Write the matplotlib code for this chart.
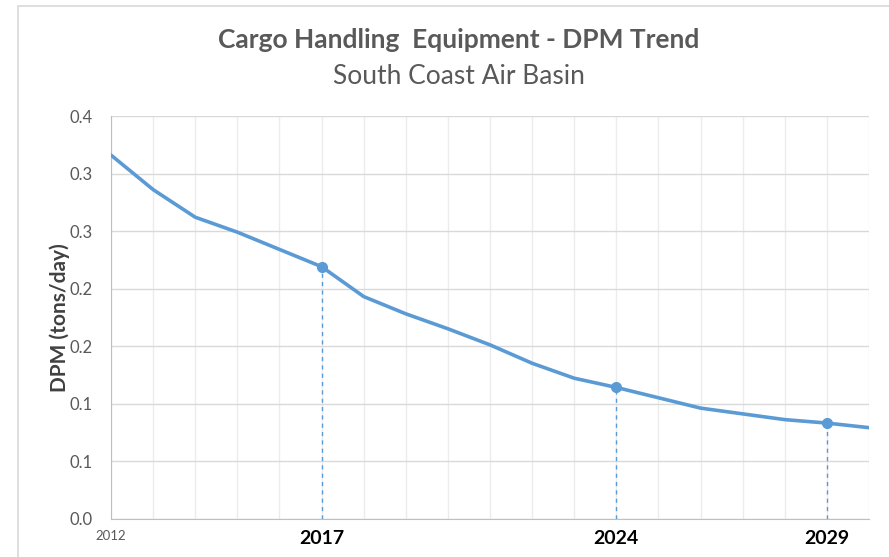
import matplotlib.pyplot as plt
from matplotlib.patches import Rectangle

# DPM emissions, South Coast Air Basin (tons/day)
years = [2012, 2013, 2014, 2015, 2016, 2017, 2018, 2019, 2020, 2021,
         2022, 2023, 2024, 2025, 2026, 2027, 2028, 2029, 2030]
dpm = [0.316, 0.286, 0.262, 0.249, 0.234, 0.219, 0.193, 0.178, 0.165, 0.151,
       0.135, 0.122, 0.114, 0.105, 0.096, 0.091, 0.086, 0.083, 0.079]

marked_years = [2017, 2024, 2029]
ytick_values = [0.0, 0.05, 0.10, 0.15, 0.20, 0.25, 0.30, 0.35]
ytick_labels = ["0.0", "0.1", "0.1", "0.2", "0.2", "0.3", "0.3", "0.4"]

plt.rcParams['font.family'] = ['Lato', 'DejaVu Sans']

fig = plt.figure(figsize=(8.89, 5.57), dpi=100)
ax = fig.add_axes([0.1249, 0.0691, 0.8526, 0.7226])

# chart area border
fig.patches.append(Rectangle((18 / 889, -0.1), 2, 1.1 - 6 / 557, transform=fig.transFigure,
                             fill=False, edgecolor="#d9d9d9", linewidth=1.2))

blue = "#5b9bd5"
ax.plot(years, dpm, color=blue, linewidth=2.6, solid_capstyle="round", zorder=3)

marked_vals = [dpm[years.index(y)] for y in marked_years]
ax.plot(marked_years, marked_vals, "o", color=blue, markersize=7, zorder=4)
ax.vlines(marked_years, 0, marked_vals, colors=blue, linestyles=(0, (3, 3)), linewidth=1.0, zorder=2)

ax.set_xlim(years[0], years[-1])
ax.set_ylim(0, 0.35)

ax.set_xticks(years)
xlabels = [str(y) if (y == years[0] or y in marked_years) else "" for y in years]
ax.set_xticklabels(xlabels)
for lbl in ax.get_xticklabels():
    if lbl.get_text() == str(years[0]):
        lbl.set_fontsize(9.5)
        lbl.set_color("#595959")
    else:
        lbl.set_fontsize(14)
        lbl.set_fontweight("bold")
        lbl.set_color("black")

ax.set_yticks(ytick_values)
ax.set_yticklabels(ytick_labels, fontsize=12, color="#595959")
ax.tick_params(axis="both", length=0)
ax.tick_params(axis="x", pad=8)
ax.tick_params(axis="y", pad=13)

ax.grid(axis="y", color="#d9d9d9", linewidth=1.0)
ax.grid(axis="x", color="#ececec", linewidth=1.0)
ax.set_axisbelow(True)

for side in ["top", "right"]:
    ax.spines[side].set_visible(False)
ax.spines["left"].set_color("#bfbfbf")
ax.spines["bottom"].set_color("#bfbfbf")

ax.set_ylabel("DPM (tons/day)", fontsize=15, fontweight="bold", color="#404040", labelpad=0)

fig.text(459 / 889, 1 - 40 / 557, "Cargo Handling  Equipment - DPM Trend", ha="center", va="center",
         fontsize=19, fontweight="bold", color="#595959")
fig.text(459 / 889, 1 - 76 / 557, "South Coast Air Basin", ha="center", va="center",
         fontsize=19, color="#595959")

fig.savefig("out.png", dpi=100)
